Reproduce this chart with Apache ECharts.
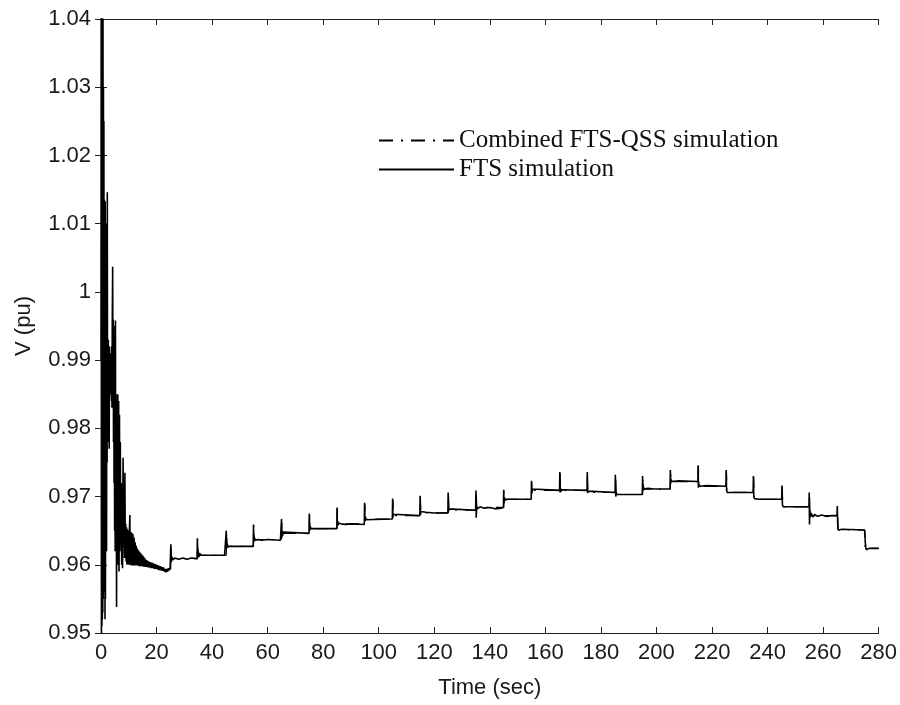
<!DOCTYPE html>
<html>
<head>
<meta charset="utf-8">
<script src="https://cdn.jsdelivr.net/npm/echarts@6/dist/echarts.min.js"></script>
<style>
html,body{margin:0;padding:0;background:#fff;}
#chart{width:900px;height:705px;}
</style>
</head>
<body>
<div id="chart"></div>
<script>
// ---- data ----
const seriesNames = ['Combined FTS-QSS simulation', 'FTS simulation'];
const xTicks = [0, 20, 40, 60, 80, 100, 120, 140, 160, 180, 200, 220, 240, 260, 280];
const yTicks = [0.95, 0.96, 0.97, 0.98, 0.99, 1.00, 1.01, 1.02, 1.03, 1.04];
const yTickLabels = ['0.95', '0.96', '0.97', '0.98', '0.99', '1', '1.01', '1.02', '1.03', '1.04'];

// FTS simulation: early transient [time (s), V (pu)]
const ftsTransient = [
  [0.00,0.990],[0.08,1.046],[0.16,0.950],[0.24,1.045],[0.32,0.951],[0.40,1.043],[0.48,0.952],
  [0.56,1.041],[0.64,0.953],[0.72,1.040],[0.80,0.955],[0.88,1.030],[0.96,0.956],[1.04,1.025],
  [1.12,0.958],[1.20,1.0135],[1.28,0.960],[1.36,1.013],[1.44,0.952],[1.52,1.0133],[1.60,0.955],
  [1.70,1.010],[1.80,0.975],[1.90,0.990],[2.00,0.962],[2.10,1.005],[2.20,0.975],[2.27,1.0146],
  [2.35,0.985],[2.45,0.992],[2.55,0.984],[2.65,0.993],[2.75,0.978],[2.85,0.991],[2.95,0.977],
  [3.05,0.992],[3.15,0.986],[3.25,0.991],[3.35,0.987],[3.45,0.991],[3.55,0.985],[3.65,0.990],
  [3.75,0.984],[3.85,0.992],[3.95,0.983],[4.05,0.995],[4.20,1.0037],[4.30,0.985],[4.40,0.996],
  [4.50,0.978],[4.60,0.995],[4.70,0.972],[4.80,0.985],[4.90,0.965],[5.00,0.983],[5.10,0.962],
  [5.20,0.9958],[5.30,0.963],[5.45,0.985],[5.60,0.9538],[5.75,0.984],[5.90,0.963],[6.05,0.985],
  [6.20,0.960],[6.35,0.984],[6.50,0.959],[6.65,0.982],[6.80,0.962],[6.95,0.978],[7.10,0.963],
  [7.30,0.972],[7.45,0.960],[7.60,0.970],[7.75,0.9595],[7.95,0.9757],[8.10,0.963],[8.30,0.966],
  [8.45,0.961],[8.60,0.9735],[8.75,0.962],[8.90,0.966],[9.05,0.9605],[9.20,0.9655],[9.35,0.960],
  [9.50,0.9652],[9.65,0.9601],[9.80,0.9650],[10.0,0.9600],[10.2,0.9648],[10.4,0.9673],[10.5,0.9600],
  [10.7,0.9648],[10.9,0.9599],[11.1,0.9647],[11.3,0.9599],[11.5,0.9645],[11.7,0.9599],[11.9,0.9640],
  [12.1,0.9599],[12.3,0.9633],[12.5,0.9599],[12.7,0.9628],[12.9,0.9599],[13.1,0.9624],[13.3,0.9599],
  [13.5,0.9621],[13.7,0.9598],[13.9,0.9619],[14.1,0.9598],[14.3,0.9617],[14.5,0.9598],[14.7,0.9615],
  [14.9,0.9598],[15.1,0.9613],[15.3,0.9597],[15.5,0.9611],[15.7,0.9597],[15.9,0.9609],[16.1,0.9597],
  [16.3,0.9607],[16.5,0.9597],[16.7,0.9606],[16.9,0.9596],[17.1,0.9605],[17.4,0.9596],[17.7,0.9604],
  [18.0,0.9595],[18.3,0.9603],[18.6,0.9595],[18.9,0.9602],[19.2,0.9594],[19.5,0.9601],[19.8,0.9594],
  [20.1,0.9600],[20.4,0.9593],[20.7,0.9599],[21.0,0.9592],[21.3,0.9598],[21.6,0.9592],[21.9,0.9597],
  [22.2,0.9591],[22.5,0.9596],[22.8,0.9590],[23.1,0.9594],[23.4,0.9589],[23.7,0.9593],[24.0,0.9590],
  [24.3,0.9595],[24.6,0.9592],[24.9,0.9596]
];

// FTS simulation: tap-changer staircase [time (s), V (pu)]
const ftsSteps = [
  [25.05,0.9594],[25.15,0.9630],[25.3,0.9604],[25.5,0.9612],[25.8,0.9607],[26.5,0.9610],[28.0,0.9608],
  [29.5,0.9610],[31.0,0.9608],[32.5,0.9610],[34.6,0.9609],[34.7,0.9639],[34.85,0.9612],[35.0,0.9620],
  [35.2,0.9611],[35.5,0.9617],[36.0,0.9614],[40.0,0.9614],[44.5,0.9614],[45.0,0.9616],[45.1,0.9650],
  [45.25,0.9624],[45.45,0.9631],[45.7,0.9626],[46.5,0.9627],[54.8,0.9627],[54.9,0.9659],[55.05,0.9634],
  [55.25,0.9640],[55.5,0.9636],[56.5,0.9637],[58.0,0.9636],[60.0,0.9637],[64.6,0.9636],[64.8,0.9634],
  [65.0,0.9667],[65.1,0.9640],[65.25,0.9650],[65.4,0.9643],[65.7,0.9648],[66.0,0.9646],[74.9,0.9646],
  [75.0,0.9675],[75.15,0.9650],[75.35,0.9656],[75.6,0.9653],[84.9,0.9653],[85.0,0.9684],[85.1,0.9657],
  [85.2,0.9664],[85.35,0.9658],[85.6,0.9661],[86.5,0.9660],[88.0,0.9659],[90.0,0.9660],[94.8,0.9659],
  [94.9,0.9691],[95.05,0.9664],[95.2,0.9670],[95.4,0.9666],[95.7,0.9667],[104.9,0.9667],[105.0,0.9697],
  [105.1,0.9669],[105.3,0.9674],[105.6,0.9672],[114.8,0.9672],[114.9,0.9701],[115.0,0.9673],[115.2,0.9678],
  [115.5,0.9676],[117.0,0.9677],[120.0,0.9676],[124.9,0.9676],[125.0,0.9706],[125.1,0.9678],[125.3,0.9682],
  [125.6,0.9680],[134.9,0.9680],[135.0,0.9709],[135.1,0.9669],[135.25,0.9686],[135.5,0.9682],[136.5,0.9685],
  [138.0,0.9683],[140.0,0.9684],[142.0,0.9682],[144.0,0.9683],[144.9,0.9684],[145.0,0.9710],[145.1,0.9690],
  [145.3,0.9698],[145.6,0.9695],[146.5,0.9696],[154.9,0.9696],[155.0,0.9723],[155.15,0.9705],[155.35,0.9711],
  [155.6,0.9709],[165.1,0.9709],[165.2,0.9736],[165.3,0.9706],[165.4,0.9714],[165.55,0.9707],[165.8,0.9710],
  [175.0,0.9709],[175.1,0.9736],[175.2,0.9705],[175.4,0.9708],[175.7,0.9706],[185.1,0.9706],[185.2,0.9732],
  [185.35,0.9700],[185.5,0.9706],[185.8,0.9703],[194.9,0.9703],[195.0,0.9730],[195.1,0.9708],[195.3,0.9714],
  [195.6,0.9711],[197.0,0.9712],[199.0,0.9711],[204.9,0.9711],[205.0,0.9739],[205.1,0.9719],[205.3,0.9725],
  [205.6,0.9722],[208.0,0.9723],[214.9,0.9722],[215.0,0.9746],[215.1,0.9713],[215.3,0.9718],[215.6,0.9715],
  [218.0,0.9716],[225.0,0.9715],[225.1,0.9739],[225.25,0.9709],[225.5,0.9706],[234.8,0.9706],[234.9,0.9730],
  [235.05,0.9700],[235.3,0.9697],[237.0,0.9696],[245.1,0.9696],[245.2,0.9716],[245.35,0.9688],[245.6,0.9685],
  [254.9,0.9685],[255.0,0.9706],[255.1,0.9659],[255.25,0.9680],[255.45,0.9670],[255.7,0.9676],[256.3,0.9670],
  [257.0,0.9674],[258.0,0.9671],[259.5,0.9673],[261.0,0.9671],[263.0,0.9672],[265.0,0.9672],[265.1,0.9686],
  [265.25,0.9660],[265.45,0.9651],[267.0,0.9652],[274.9,0.9651],[275.0,0.9648],[275.2,0.9632],[275.5,0.9622],
  [276.5,0.9624],[280.0,0.9624]
];

// Combined FTS-QSS simulation [time (s), V (pu)]
const qssPoints = [
  [23.0,0.9593],[25.1,0.9594],[25.2,0.9628],[25.4,0.9609],[34.7,0.9609],[34.8,0.9637],[35.0,0.9614],
  [45.1,0.9614],[45.2,0.9648],[45.4,0.9627],[54.9,0.9627],[55.0,0.9657],[55.2,0.9637],[65.0,0.9637],
  [65.1,0.9665],[65.3,0.9646],[75.0,0.9646],[75.1,0.9673],[75.3,0.9653],[85.0,0.9653],[85.1,0.9682],
  [85.3,0.9660],[94.9,0.9660],[95.0,0.9689],[95.2,0.9667],[105.0,0.9667],[105.1,0.9695],[105.3,0.9672],
  [114.9,0.9672],[115.0,0.9699],[115.2,0.9676],[125.0,0.9676],[125.1,0.9704],[125.3,0.9680],[135.0,0.9680],
  [135.1,0.9707],[135.3,0.9684],[145.0,0.9684],[145.1,0.9708],[145.3,0.9696],[155.0,0.9696],[155.1,0.9721],
  [155.3,0.9709],[165.2,0.9709],[165.3,0.9734],[165.5,0.9709],[175.0,0.9709],[175.1,0.9734],[175.3,0.9706],
  [185.2,0.9706],[185.3,0.9730],[185.5,0.9703],[195.0,0.9703],[195.1,0.9728],[195.3,0.9711],[205.0,0.9711],
  [205.1,0.9737],[205.3,0.9722],[215.0,0.9722],[215.1,0.9744],[215.3,0.9715],[225.1,0.9715],[225.2,0.9737],
  [225.4,0.9706],[234.9,0.9706],[235.0,0.9728],[235.2,0.9696],[245.2,0.9696],[245.3,0.9714],[245.5,0.9685],
  [255.0,0.9685],[255.1,0.9704],[255.3,0.9672],[265.1,0.9672],[265.2,0.9684],[265.4,0.9651],[275.0,0.9651],
  [275.1,0.9624],[280.0,0.9624]
];

// ---- chart ----
const ftsPoints = ftsTransient.concat(ftsSteps);
const labelFont = {fontFamily: 'Liberation Sans, Arial, sans-serif', fontSize: 22, color: '#1a1a1a'};
const chart = echarts.init(document.getElementById('chart'), null, {renderer: 'canvas'});
const axisLineStyle = {color: '#222', width: 1};

chart.setOption({
  animation: false,
  backgroundColor: '#ffffff',
  grid: {left: 101, right: 21, top: 19, bottom: 72, containLabel: false},
  legend: {
    orient: 'vertical', left: 378, top: 128, padding: 0, itemWidth: 75, itemHeight: 14, itemGap: 4,
    itemStyle: {opacity: 0},
    textStyle: {fontFamily: 'Liberation Serif, Times New Roman, serif', fontSize: 25, color: '#111'},
    data: seriesNames
  },
  xAxis: [
    {
      type: 'value', min: xTicks[0], max: xTicks[xTicks.length - 1], interval: 20,
      name: 'Time (sec)', nameLocation: 'middle', nameGap: 44,
      nameTextStyle: Object.assign({}, labelFont),
      axisLine: {show: true, lineStyle: axisLineStyle},
      axisTick: {show: true, inside: true, length: 6, lineStyle: axisLineStyle},
      axisLabel: Object.assign({margin: 9}, labelFont),
      splitLine: {show: false}
    },
    {
      type: 'value', position: 'top', min: xTicks[0], max: xTicks[xTicks.length - 1], interval: 20,
      axisLine: {show: true, lineStyle: axisLineStyle},
      axisTick: {show: true, inside: true, length: 6, lineStyle: axisLineStyle},
      axisLabel: {show: false}, splitLine: {show: false}
    }
  ],
  yAxis: [
    {
      type: 'value', min: yTicks[0], max: yTicks[yTicks.length - 1], interval: 0.01,
      name: 'V (pu)', nameLocation: 'middle', nameGap: 66,
      nameTextStyle: Object.assign({}, labelFont),
      axisLine: {show: true, lineStyle: axisLineStyle},
      axisTick: {show: true, inside: true, length: 6, lineStyle: axisLineStyle},
      axisLabel: Object.assign({
        margin: 10,
        formatter: function (v) {
          const i = Math.round((v - yTicks[0]) / 0.01);
          return yTickLabels[i] !== undefined ? yTickLabels[i] : '';
        }
      }, labelFont),
      splitLine: {show: false}
    },
    {
      type: 'value', position: 'right', min: yTicks[0], max: yTicks[yTicks.length - 1], interval: 0.01,
      axisLine: {show: true, lineStyle: axisLineStyle},
      axisTick: {show: true, inside: true, length: 6, lineStyle: axisLineStyle},
      axisLabel: {show: false}, splitLine: {show: false}
    }
  ],
  series: [
    {
      name: seriesNames[1], type: 'line', data: ftsPoints, showSymbol: false, symbol: 'none',
      xAxisIndex: 0, yAxisIndex: 0, clip: true,
      lineStyle: {color: '#000', width: 1.6}, itemStyle: {color: '#000'}
    },
    {
      name: seriesNames[0], type: 'line', data: qssPoints, showSymbol: false, symbol: 'none',
      xAxisIndex: 0, yAxisIndex: 0, clip: true,
      lineStyle: {color: '#000', width: 1.2, type: [14, 8, 2, 8]}, itemStyle: {color: '#000'}
    }
  ]
});
</script>
</body>
</html>
